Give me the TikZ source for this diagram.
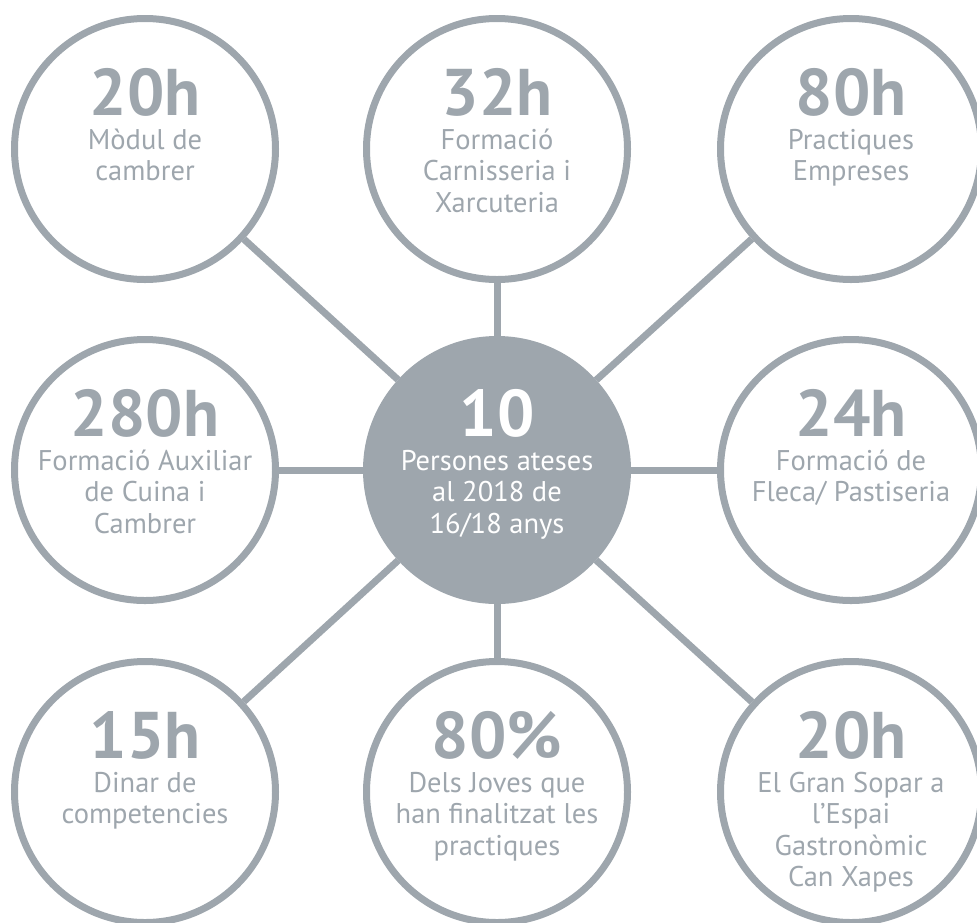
\documentclass[tikz,border=0pt]{standalone}
\usepackage{fontspec}
\setmainfont{PT Sans}
\definecolor{ringgray}{RGB}{158,166,173}
\newcommand{\ringcolor}{ringgray}
\newcommand{\ringwidth}{7pt}
\newcommand{\ringsize}{261pt}

\tikzset{
  ring/.style={circle, draw=\ringcolor, line width=\ringwidth, minimum size=\ringsize, inner sep=0pt},
  hub/.style={circle, fill=\ringcolor, draw=\ringcolor, line width=\ringwidth, minimum size=\ringsize, inner sep=0pt},
  link/.style={draw=\ringcolor, line width=\ringwidth},
  num/.style={anchor=base, inner sep=0pt, font=\fontsize{66}{66}\selectfont\bfseries, text=\ringcolor},
  txt/.style={anchor=north, align=center, inner sep=0pt, font=\fontsize{28.5}{31.5}\selectfont, text=\ringcolor},
}

\begin{document}
\begin{tikzpicture}[x=1pt, y=-1pt]
\clip (0,0) rectangle (977,922);
\node[ring] (mod) at (145,149) {};
\node[ring] (carn) at (497,149) {};
\node[ring] (prac) at (851,149) {};
\node[ring] (aux) at (145,470) {};
\node[hub] (hub) at (497,470) {};
\node[ring] (fleca) at (851,470) {};
\node[ring] (dinar) at (145,792) {};
\node[ring] (joves) at (497,792) {};
\node[ring] (sopar) at (851,792) {};
%links
\draw[link] (hub) -- (mod);
\draw[link] (hub) -- (carn);
\draw[link] (hub) -- (prac);
\draw[link] (hub) -- (aux);
\draw[link] (hub) -- (fleca);
\draw[link] (hub) -- (dinar);
\draw[link] (hub) -- (joves);
\draw[link] (hub) -- (sopar);
%top row
\node[num] (mod-n) at ([yshift=34pt]mod.center) {20h};
\node[txt] (mod-t) at ([yshift=22pt]mod.center) {\strut Mòdul de\\cambrer};
\node[num] (carn-n) at ([yshift=34pt]carn.center) {32h};
\node[txt] (carn-t) at ([yshift=22pt]carn.center) {\strut Formació\\Carnisseria i\\Xarcuteria};
\node[num] (prac-n) at ([yshift=34pt]prac.center) {80h};
\node[txt] (prac-t) at ([yshift=22pt]prac.center) {\strut Practiques\\Empreses};
%middle row
\node[num] (aux-n) at ([yshift=34pt]aux.center) {280h};
\node[txt] (aux-t) at ([yshift=22pt]aux.center) {\strut Formació Auxiliar\\de Cuina i\\Cambrer};
\node[num, text=white] (hub-n) at ([yshift=34pt]hub.center) {10};
\node[txt, text=white] (hub-t) at ([yshift=22pt]hub.center) {\strut Persones ateses\\al 2018 de\\16/18 anys};
\node[num] (fleca-n) at ([yshift=34pt]fleca.center) {24h};
\node[txt] (fleca-t) at ([yshift=22pt]fleca.center) {\strut Formació de\\Fleca/ Pastiseria};
%bottom row
\node[num] (dinar-n) at ([yshift=34pt]dinar.center) {15h};
\node[txt] (dinar-t) at ([yshift=22pt]dinar.center) {\strut Dinar de\\competencies};
\node[num] (joves-n) at ([yshift=34pt]joves.center) {80\%};
\node[txt] (joves-t) at ([yshift=22pt]joves.center) {\strut Dels Joves que\\han finalitzat les\\practiques};
\node[num] (sopar-n) at ([yshift=34pt]sopar.center) {20h};
\node[txt] (sopar-t) at ([yshift=22pt]sopar.center) {\strut El Gran Sopar a\\l’Espai\\Gastronòmic\\Can Xapes};
\end{tikzpicture}
\end{document}
